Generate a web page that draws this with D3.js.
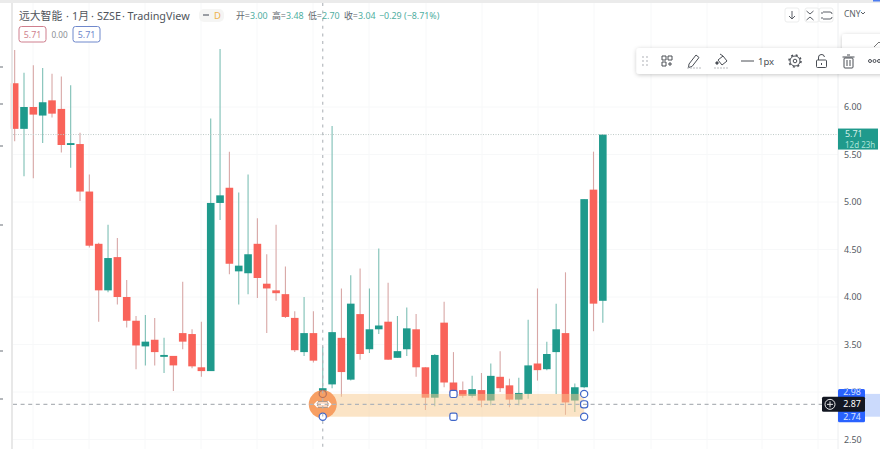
<!DOCTYPE html>
<html>
<head>
<meta charset="utf-8">
<script src="https://d3js.org/d3.v7.min.js"></script>
<style>
html, body { margin: 0; padding: 0; background: #fff; overflow: hidden; }
text { font-family: "Noto Sans", "Noto Sans CJK SC", sans-serif; }
</style>
</head>
<body>
<div id="chart"></div>
<script>
// monthly candles
var opens  = [6.25,5.77,6.00,5.91,6.07,5.98,5.60,5.61,5.11,4.56,4.07,4.42,4.00,3.75,3.48,3.55,3.37,3.38,3.62,3.61,3.26,3.22,4.99,5.15,4.27,4.25,4.56,4.14,4.07,4.03,3.78,3.42,3.62,3.00,3.08,3.57,3.13,3.82,3.45,3.66,3.74,3.36,3.45,3.66,3.26,2.94,3.73,3.10,3.02,2.96,3.02,2.91,3.16,3.07,2.92,2.98,3.30,3.24,3.42,3.62,2.91,3.05,5.13,3.96];
var highs  = [6.60,6.36,6.44,6.41,6.35,6.32,6.23,5.73,5.29,4.57,4.76,4.62,4.18,3.80,3.81,3.78,3.57,3.38,4.16,3.66,3.74,5.88,6.61,5.53,5.10,5.29,4.83,4.45,4.76,4.32,3.85,4.00,3.85,3.48,5.80,4.09,4.23,4.30,4.09,4.51,4.15,3.80,3.89,3.82,3.26,3.40,3.95,3.42,3.11,3.17,3.20,3.30,3.43,3.14,3.15,3.76,4.09,3.53,3.93,4.26,3.09,5.03,5.53,5.71];
var lows   = [5.64,5.27,5.25,5.62,5.89,5.52,5.36,5.01,4.52,3.74,4.05,3.92,3.68,3.24,3.28,3.28,3.20,3.01,3.45,3.25,3.16,3.22,4.81,4.24,3.92,4.03,3.99,3.62,3.96,3.78,3.42,3.38,3.31,2.70,3.04,2.95,3.12,3.34,3.41,3.61,3.34,3.36,3.38,3.16,2.81,2.85,3.05,2.97,2.94,2.94,2.84,2.86,3.00,2.84,2.86,2.93,3.12,3.23,2.98,2.76,2.79,3.04,3.64,3.73];
var closes = [5.77,6.00,5.92,6.05,5.93,5.60,5.62,5.11,4.54,4.07,4.41,4.00,3.75,3.49,3.53,3.42,3.39,3.28,3.53,3.27,3.22,4.99,5.07,4.35,4.33,4.45,4.20,4.09,4.04,3.79,3.44,3.62,3.33,3.04,3.63,3.21,3.93,3.40,3.66,3.70,3.34,3.43,3.67,3.26,2.94,3.39,3.10,2.99,2.96,3.03,2.91,3.17,3.04,2.92,2.99,3.28,3.23,3.40,3.66,2.89,3.05,5.03,3.93,5.71];

var priceTicks = [6, 5.5, 5, 4.5, 4, 3.5, 3, 2.5];
var gridColumns = [33, 89, 145, 201, 257, 313, 369, 426, 482, 538, 594, 651, 707, 762, 818];

var lastPrice = 5.71;
var cursorPrice = 2.87;
var rangeTop = 2.98;
var rangeBottom = 2.74;
var cursorIndex = 33;
var rangeMiddleIndex = 47;
var rangeEndIndex = 61;

var titleParts = ["远大智能", "·", "1月", "·", "SZSE", "·", "TradingView"];
var legendLabels = ["开=", "高=", "低=", "收="];
var legendValues = ["3.00", "3.48", "2.70", "3.04"];
var changeLabel = "−0.29 (−8.71%)";

var width = 880, height = 449;
var green = "#1f9a8c", red = "#f9635a";
var greenWick = "#7dbfb5", redWick = "#d8a7a6";
var blue = "#3f66c8";
var numberSize = "8.9px";

var svg = d3.select("#chart").append("svg")
    .attr("width", width)
    .attr("height", height)
    .style("display", "block");

var defs = svg.append("defs");
var shadow = defs.append("filter").attr("id", "shadow")
    .attr("x", "-5%").attr("y", "-30%").attr("width", "110%").attr("height", "170%");
shadow.append("feDropShadow")
    .attr("dx", 0).attr("dy", 1).attr("stdDeviation", 2)
    .attr("flood-color", "#000").attr("flood-opacity", 0.22);

var x = d3.scaleBand()
    .domain(d3.range(opens.length))
    .range([10, 607.5]);

var y = d3.scaleLinear()
    .domain([2.5, 6])
    .range([439.5, 107]);

var mid = function(i) { return x(i) + x.bandwidth() / 2; };

// Grid
var grid = svg.append("g").attr("id", "grid").attr("stroke", "#f7f8f9");
grid.selectAll("line.v").data(gridColumns).enter().append("line")
    .attr("class", "v")
    .attr("x1", function(d) { return d; })
    .attr("x2", function(d) { return d; })
    .attr("y1", 3).attr("y2", height);
grid.selectAll("line.h").data(priceTicks).enter().append("line")
    .attr("class", "h")
    .attr("x1", 13).attr("x2", 838)
    .attr("y1", function(d) { return y(d); })
    .attr("y2", function(d) { return y(d); });

// Candles
var candles = svg.append("g").attr("id", "candles");
var rows = d3.range(opens.length);
var isUp = function(i) { return closes[i] >= opens[i]; };

candles.selectAll("line").data(rows).enter().append("line")
    .attr("x1", mid).attr("x2", mid)
    .attr("y1", function(i) { return y(highs[i]); })
    .attr("y2", function(i) { return y(lows[i]); })
    .attr("stroke", function(i) { return isUp(i) ? greenWick : redWick; })
    .attr("stroke-width", 1.1);

candles.selectAll("rect").data(rows).enter().append("rect")
    .attr("x", function(i) { return mid(i) - 3.8; })
    .attr("width", 7.6)
    .attr("y", function(i) { return y(Math.max(opens[i], closes[i])); })
    .attr("height", function(i) { return Math.max(1.5, Math.abs(y(opens[i]) - y(closes[i]))); })
    .attr("fill", function(i) { return isUp(i) ? green : red; });

// Range drawing
var drawing = svg.append("g").attr("id", "range");
drawing.append("rect")
    .attr("x", mid(cursorIndex))
    .attr("width", mid(rangeEndIndex) - mid(cursorIndex))
    .attr("y", y(rangeTop))
    .attr("height", y(rangeBottom) - y(rangeTop))
    .attr("fill", "#f8c98d")
    .attr("fill-opacity", 0.5);

// Price lines
svg.append("line")
    .attr("x1", 13).attr("x2", 838)
    .attr("y1", y(lastPrice)).attr("y2", y(lastPrice))
    .attr("stroke", "#bfcbc8")
    .attr("stroke-dasharray", "1 1.5");

svg.append("line")
    .attr("x1", 13).attr("x2", 822)
    .attr("y1", y(cursorPrice)).attr("y2", y(cursorPrice))
    .attr("stroke", "#b0b4b9")
    .attr("stroke-width", 1.1)
    .attr("stroke-dasharray", "4 3.6");

svg.append("line")
    .attr("x1", mid(cursorIndex)).attr("x2", mid(cursorIndex))
    .attr("y1", 3).attr("y2", height)
    .attr("stroke", "#b0b4b9")
    .attr("stroke-width", 1.1)
    .attr("stroke-dasharray", "3 4.6");

// Handles
drawing.append("circle")
    .attr("cx", mid(cursorIndex)).attr("cy", y(cursorPrice)).attr("r", 14)
    .attr("fill", "#f79f63");

var handle = function(cx, cy, round, stroke, clear) {
    drawing.append("rect")
        .attr("x", cx - 3.6).attr("y", cy - 3.6)
        .attr("width", 7.2).attr("height", 7.2)
        .attr("rx", round)
        .attr("fill", clear ? "none" : "#fff")
        .attr("stroke", stroke).attr("stroke-width", 1.2);
};
handle(mid(cursorIndex), y(rangeTop), 3.6, "#b5705a", true);
handle(mid(cursorIndex), y(rangeBottom), 3.6, blue, false);
handle(mid(rangeMiddleIndex), y(rangeTop), 1.8, blue, false);
handle(mid(rangeMiddleIndex), y(rangeBottom), 1.8, blue, false);
handle(mid(rangeEndIndex), y(rangeTop), 3.6, blue, false);
handle(mid(rangeEndIndex), y(cursorPrice), 2.6, blue, false);
handle(mid(rangeEndIndex), y(rangeBottom), 3.6, blue, false);

var cx = mid(cursorIndex), cy = y(cursorPrice);
drawing.append("rect")
    .attr("x", cx - 5).attr("y", cy - 3)
    .attr("width", 10).attr("height", 6)
    .attr("fill", "#fff").attr("fill-opacity", 0.6)
    .attr("stroke", "#9a8f88").attr("stroke-width", 0.8);
drawing.append("path")
    .attr("d", "M" + (cx - 8) + "," + cy + "H" + (cx + 8)
        + "M" + (cx - 5) + "," + (cy - 3) + "L" + (cx - 8) + "," + cy + "L" + (cx - 5) + "," + (cy + 3)
        + "M" + (cx + 5) + "," + (cy - 3) + "L" + (cx + 8) + "," + cy + "L" + (cx + 5) + "," + (cy + 3))
    .attr("fill", "none").attr("stroke", "#fff").attr("stroke-width", 1.4);

// Window frame
svg.append("rect").attr("x", 0).attr("y", 0).attr("width", width).attr("height", 3).attr("fill", "#ebebeb");
svg.append("rect").attr("x", 11).attr("y", 3).attr("width", 2).attr("height", height - 3).attr("fill", "#e8e8e8");
svg.append("rect").attr("x", 873).attr("y", 0).attr("width", 7).attr("height", 1.5).attr("fill", "#4c7cf0");
svg.append("g").selectAll("rect").data([66, 103, 145, 224, 350, 398]).enter().append("rect")
    .attr("x", 0)
    .attr("y", function(d) { return d; })
    .attr("width", 3).attr("height", 2)
    .attr("fill", "#b4b7bb");

// Price axis
svg.append("line")
    .attr("x1", 838).attr("x2", 838)
    .attr("y1", 3).attr("y2", height)
    .attr("stroke", "#eceef0");

var axis = svg.append("g")
    .attr("id", "yaxis")
    .attr("transform", "translate(838,0)")
    .call(d3.axisRight(y).tickValues(priceTicks).tickSize(0).tickPadding(6).tickFormat(d3.format(".2f")));
axis.select(".domain").remove();
axis.selectAll("text").attr("fill", "#555b63").style("font-size", numberSize);

// Last price tag
svg.append("rect")
    .attr("x", 838).attr("y", y(lastPrice) - 6)
    .attr("width", 40).attr("height", 21)
    .attr("fill", green);
svg.append("text").attr("x", 845).attr("y", y(lastPrice) + 2)
    .attr("fill", "#d5efe9").style("font-size", numberSize)
    .text(lastPrice.toFixed(2));
svg.append("text").attr("x", 845).attr("y", y(lastPrice) + 13)
    .attr("fill", "#a9e2d8").style("font-size", "8px")
    .text("12d 23h");

// Range tags
svg.append("rect")
    .attr("x", 865).attr("y", y(rangeTop))
    .attr("width", 15).attr("height", y(rangeBottom) - y(rangeTop))
    .attr("fill", "#cbdafc");
svg.append("rect")
    .attr("x", 838).attr("y", y(rangeTop) - 5)
    .attr("width", 27).attr("height", y(rangeBottom) - y(rangeTop) + 10.5)
    .attr("rx", 1.5)
    .attr("fill", "#2962ff");
svg.append("rect")
    .attr("x", 822).attr("y", y(cursorPrice) - 7.5)
    .attr("width", 43).attr("height", 15)
    .attr("rx", 1.5)
    .attr("fill", "#131722");
var tagValues = [rangeTop, cursorPrice, rangeBottom];
var tagNudge = [1.5, 3, 3.5];
svg.append("g").selectAll("text").data(tagValues).enter().append("text")
    .attr("x", 852)
    .attr("y", function(d, i) { return y(d) + tagNudge[i]; })
    .attr("text-anchor", "middle")
    .attr("fill", function(d, i) { return i == 1 ? "#fff" : "#dbe5ff"; })
    .style("font-size", numberSize)
    .text(function(d) { return d.toFixed(2); });
svg.append("circle").attr("cx", 830).attr("cy", y(cursorPrice)).attr("r", 5)
    .attr("fill", "none").attr("stroke", "#e8e8e8");
svg.append("path")
    .attr("d", "M827,"+ y(cursorPrice) + "h6M830," + (y(cursorPrice) - 3) + "v6")
    .attr("stroke", "#e8e8e8");

// Header
var titleLeft = [19, 66, 72, 91, 97, 122, 127.5];
var title = svg.append("text").attr("y", 20).attr("fill", "#50555c").style("font-size", "10.8px");
titleParts.forEach(function(d, i) {
    title.append("tspan").attr("x", titleLeft[i]).text(d);
});

svg.append("rect").attr("x", 199).attr("y", 9).attr("width", 25).attr("height", 13).attr("rx", 5).attr("fill", "#f5f5f4");
svg.append("rect").attr("x", 203).attr("y", 14).attr("width", 6).attr("height", 2).attr("fill", "#9a9da3");
svg.append("text").attr("x", 214).attr("y", 19).attr("fill", "#efb24a").style("font-size", "9.5px").text("D");

var legend = svg.append("text").attr("y", 19).style("font-size", numberSize);
legendLabels.forEach(function(d, i) {
    legend.append("tspan").attr("x", 236 + 36 * i).attr("fill", "#62676e").text(d);
    legend.append("tspan").attr("fill", "#4fae9f").text(legendValues[i]);
});
legend.append("tspan").attr("x", 379).attr("fill", "#4fae9f").text(changeLabel);

var chip = function(left, color, label) {
    svg.append("rect").attr("x", left).attr("y", 26.5).attr("width", 27).attr("height", 15.5).attr("rx", 2.5)
        .attr("fill", "#fff").attr("stroke", color);
    svg.append("text").attr("x", left + 13.5).attr("y", 37.5).attr("text-anchor", "middle")
        .attr("fill", color).style("font-size", numberSize).text(label);
};
chip(19, "#cf7f8e", lastPrice.toFixed(2));
chip(73, "#6f88cc", lastPrice.toFixed(2));
svg.append("text").attr("x", 59.5).attr("y", 37.5)
    .attr("text-anchor", "middle").attr("fill", "#8a8e94").style("font-size", "8.2px").text("0.00");

// Top right buttons
var buttons = svg.append("g").attr("fill", "none").attr("stroke", "#5b5f66");
[785, 805, 819].forEach(function(d) {
    buttons.append("rect").attr("x", d).attr("y", 8).attr("width", 14).attr("height", 14).attr("rx", 2)
        .attr("stroke", "#eceded");
});
buttons.append("path").attr("d", "M792,11v8M789,16l3,3l3,-3");
buttons.append("path").attr("d", "M806.5,11l3.5,3l3.5,-3M806.5,20l3.5,-3l3.5,3");
buttons.append("path").attr("d", "M823,12h7a2,2 0 0 1 2,2M823,19h7a2,2 0 0 0 2,-2M822,12v2M822,17v2");
svg.append("text").attr("x", 844).attr("y", 16.5).attr("fill", "#5b5f66").style("font-size", "8.5px").text("CNY");
svg.append("path").attr("d", "M861,12l2,2l2,-2").attr("fill", "none").attr("stroke", "#5b5f66");

// Floating toolbars
svg.append("rect").attr("x", 842).attr("y", 34).attr("width", 50).attr("height", 30).attr("rx", 3)
    .attr("fill", "#fff").attr("filter", "url(#shadow)");
svg.append("path").attr("d", "M874,47l5,-5M879,42l2,2").attr("fill", "none").attr("stroke", "#777");
svg.append("rect").attr("x", 636.5).attr("y", 48).attr("width", 260).attr("height", 26).attr("rx", 3)
    .attr("fill", "#fff").attr("filter", "url(#shadow)");

var icons = svg.append("g").attr("id", "toolbar").attr("fill", "none").attr("stroke", "#4a4e55").attr("stroke-width", 1);
[643, 647].forEach(function(a) {
    [57, 61, 65].forEach(function(b) {
        icons.append("circle").attr("cx", a).attr("cy", b).attr("r", 0.6).attr("stroke", "#c5c7cb");
    });
});
// grid plus
icons.append("path").attr("d", "M662,56h4v4h-4zM668,56h4v4h-4zM662,62h4v4h-4zM670,62v4M668,64h4");
// pencil
icons.append("path").attr("d", "M689,64l7,-9l3,2.5l-7,9l-3.5,1z");
icons.append("path").attr("d", "M687,68h14").attr("stroke", "#b9bbbf").attr("stroke-dasharray", "2 1");
// bucket
icons.append("path").attr("d", "M718,60l5,-4l4,5l-5,4zM720,54l3,2");
icons.append("circle").attr("cx", 717).attr("cy", 63).attr("r", 1.2).attr("fill", "#4a4e55");
icons.append("path").attr("d", "M714,68h14").attr("stroke", "#b9bbbf").attr("stroke-dasharray", "2 1");
// line width
icons.append("path").attr("d", "M741,61h13");
svg.append("text").attr("x", 758).attr("y", 64.5).attr("fill", "#4a4e55").style("font-size", "9.5px").text("1px");
// gear
icons.append("circle").attr("cx", 795).attr("cy", 61).attr("r", 5);
icons.append("circle").attr("cx", 795).attr("cy", 61).attr("r", 6).attr("stroke-width", 1.5).attr("stroke-dasharray", "2 2.71");
icons.append("circle").attr("cx", 795).attr("cy", 61).attr("r", 1.8);
// lock
icons.append("rect").attr("x", 816.5).attr("y", 60).attr("width", 10).attr("height", 7.5).attr("rx", 1);
icons.append("path").attr("d", "M818.5,60v-2a3,3 0 0 1 6,-1M821.5,63v2");
// trash
icons.append("rect").attr("x", 844).attr("y", 58).attr("width", 9).attr("height", 10).attr("rx", 1);
icons.append("path").attr("d", "M842.5,57h12M847,55h3M847,60v6M850,60v6");
// more
[870, 874.5, 879].forEach(function(d) {
    icons.append("circle").attr("cx", d).attr("cy", 61).attr("r", 1.5);
});
</script>
</body>
</html>
